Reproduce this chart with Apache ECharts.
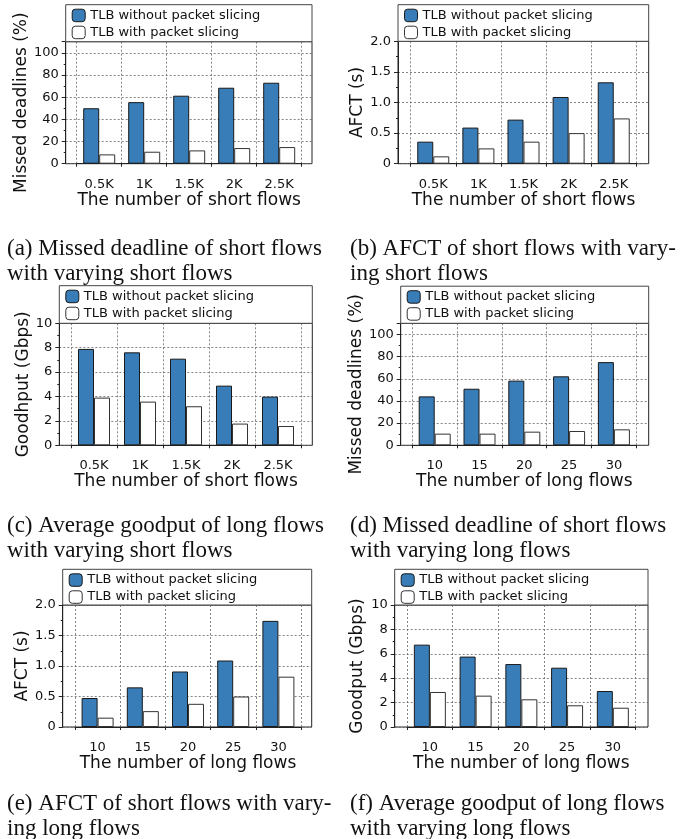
<!DOCTYPE html>
<html>
<head>
<meta charset="utf-8">
<script src="https://cdn.jsdelivr.net/npm/echarts@6/dist/echarts.min.js"></script>
<style>
html,body{margin:0;padding:0;background:#fff;}
#c{width:686px;height:839px;}
</style>
</head>
<body>
<div id="c"></div>
<script>
// ---------- data ----------
const catsShort = ['0.5K', '1K', '1.5K', '2K', '2.5K'];
const catsLong = ['10', '15', '20', '25', '30'];
const seriesNames = ['TLB without packet slicing', 'TLB with packet slicing'];

const missedShortNoSlice = [50, 55.5, 61.3, 68.5, 73];
const missedShortSlice = [8.4, 10.8, 12, 14.1, 15];
const afctShortNoSlice = [0.36, 0.59, 0.72, 1.09, 1.33];
const afctShortSlice = [0.12, 0.25, 0.36, 0.50, 0.74];
const goodputShortNoSlice = [7.9, 7.62, 7.1, 4.89, 3.99];
const goodputShortSlice = [3.91, 3.58, 3.2, 1.78, 1.58];
const missedLongNoSlice = [44.1, 51, 58.3, 62.2, 75];
const missedLongSlice = [10.5, 10.5, 12.3, 12.9, 14.4];
const afctLongNoSlice = [0.475, 0.65, 0.91, 1.09, 1.74];
const afctLongSlice = [0.153, 0.26, 0.38, 0.50, 0.825];
const goodputLongNoSlice = [6.75, 5.77, 5.16, 4.86, 2.95];
const goodputLongSlice = [2.87, 2.57, 2.27, 1.78, 1.58];

const percentTicks = { max: 110, interval: 20 };
const afctTicks = { max: 2.0, interval: 0.5 };
const goodputTicks = { max: 10, interval: 2 };

const xTitleShort = 'The number of short flows';
const xTitleLong = 'The number of long flows';

const captions = [
  ['(a) Missed deadline of short flows', 'with varying short flows'],
  ['(b) AFCT of short flows with vary-', 'ing short flows'],
  ['(c) Average goodput of long flows', 'with varying short flows'],
  ['(d) Missed deadline of short flows', 'with varying long flows'],
  ['(e) AFCT of short flows with vary-', 'ing long flows'],
  ['(f) Average goodput of long flows', 'with varying long flows']
];

// ---------- panels ----------
const fmtPercent = v => (v > 100 ? '' : String(v));
const fmtAfct = v => (v === 0 ? '0' : v.toFixed(1));
const fmtGood = v => String(v);

const panels = [
  { cats: catsShort, a: missedShortNoSlice, b: missedShortSlice, ticks: percentTicks, fmt: fmtPercent, yName: 'Missed deadlines (%)', xName: xTitleShort,
    L: 65.7, R: 312, LT: 4.7, T: 41.7, B: 163.7, CL: 76.7, CR: 301.7, nameGap: 35 },
  { cats: catsShort, a: afctShortNoSlice, b: afctShortSlice, ticks: afctTicks, fmt: fmtAfct, yName: 'AFCT (s)', xName: xTitleShort,
    L: 398, R: 648.7, LT: 4.7, T: 41.3, B: 163.7, CL: 410.7, CR: 636.3, nameGap: 31 },
  { cats: catsShort, a: goodputShortNoSlice, b: goodputShortSlice, ticks: goodputTicks, fmt: fmtGood, yName: 'Goodhput (Gbps)', xName: xTitleShort,
    L: 59.3, R: 312.3, LT: 285.7, T: 323.3, B: 445.3, CL: 71, CR: 301, nameGap: 27.5 },
  { cats: catsLong, a: missedLongNoSlice, b: missedLongSlice, ticks: percentTicks, fmt: fmtPercent, yName: 'Missed deadlines (%)', xName: xTitleLong,
    L: 400.7, R: 648.7, LT: 286.2, T: 323.3, B: 445.3, CL: 412.3, CR: 636.3, nameGap: 32.5 },
  { cats: catsLong, a: afctLongNoSlice, b: afctLongSlice, ticks: afctTicks, fmt: fmtAfct, yName: 'AFCT (s)', xName: xTitleLong,
    L: 62.7, R: 311.7, LT: 569.3, T: 605, B: 727, CL: 75, CR: 301, nameGap: 31 },
  { cats: catsLong, a: goodputLongNoSlice, b: goodputLongSlice, ticks: goodputTicks, fmt: fmtGood, yName: 'Goodput (Gbps)', xName: xTitleLong,
    L: 394.7, R: 648, LT: 569.3, T: 605, B: 727, CL: 407, CR: 635.7, nameGap: 28.5 }
];

const captionPos = [
  { x: 7, y: 256.7 }, { x: 350, y: 256.7 },
  { x: 7, y: 534.2 }, { x: 350, y: 534.2 },
  { x: 7, y: 811.7 }, { x: 350, y: 811.7 }
];

const FONT = '"DejaVu Sans", sans-serif';
const BLUE = '#387db8';
const gridLine = { show: true, lineStyle: { color: '#666', type: [2, 2], width: 0.8 } };

const option = { animation: false, backgroundColor: '#fff', grid: [], xAxis: [], yAxis: [], series: [], legend: [], graphic: [] };

panels.forEach((p, i) => {
  const gA = 2 * i, gB = 2 * i + 1;
  option.grid.push({ left: p.L, top: p.T, width: p.R - p.L, height: p.B - p.T, show: true, borderColor: '#222', borderWidth: 1, backgroundColor: 'transparent' });
  option.grid.push({ left: p.CL, top: p.T, width: p.CR - p.CL, height: p.B - p.T });
  option.xAxis.push({ gridIndex: gA, type: 'value', min: 0, max: 1, show: false });
  option.yAxis.push({
    gridIndex: gA, type: 'value', min: 0, max: p.ticks.max, interval: p.ticks.interval,
    axisLine: { show: true, lineStyle: { color: '#222', width: 1 } },
    axisTick: { show: true, length: 4, lineStyle: { color: '#222' } },
    minorTick: { show: true, splitNumber: 2, length: 2, lineStyle: { color: '#222' } },
    splitLine: gridLine,
    axisLabel: { fontSize: 13, fontFamily: FONT, color: '#111', margin: 7, formatter: p.fmt },
    name: p.yName, nameLocation: 'middle', nameGap: p.nameGap,
    nameTextStyle: { fontSize: 17, fontFamily: FONT, color: '#111' }
  });
  option.xAxis.push({
    gridIndex: gB, type: 'category', data: p.cats,
    axisLine: { show: true, lineStyle: { color: '#222', width: 1 } },
    axisTick: { show: true, length: 3, interval: 0, lineStyle: { color: '#222' } },
    splitLine: Object.assign({ interval: 0 }, gridLine),
    axisLabel: { fontSize: 13, fontFamily: FONT, color: '#111', margin: 14, interval: 0 },
    name: p.xName, nameLocation: 'middle', nameGap: 26,
    nameTextStyle: { fontSize: 17, fontFamily: FONT, color: '#111' }
  });
  option.yAxis.push({ gridIndex: gB, type: 'value', min: 0, max: p.ticks.max, show: false });
  option.series.push({
    type: 'bar', name: seriesNames[0], xAxisIndex: gB, yAxisIndex: gB, data: p.a,
    barWidth: 16, barGap: '0%', itemStyle: { color: BLUE, borderColor: '#1a1a1a', borderWidth: 1 }
  });
  option.series.push({
    type: 'bar', name: seriesNames[1], xAxisIndex: gB, yAxisIndex: gB, data: p.b,
    barWidth: 16, barGap: '0%', itemStyle: { color: '#ffffff', borderColor: '#333', borderWidth: 1 }
  });
  option.graphic.push({
    type: 'rect', z: 1, shape: { x: p.L, y: p.LT, width: p.R - p.L, height: p.T - p.LT },
    style: { fill: '#fff', stroke: '#444', lineWidth: 1 }
  });
  option.legend.push({
    left: p.L + 6, top: p.LT + 4, orient: 'vertical', padding: 0, z: 10,
    itemWidth: 13, itemHeight: 12.5, itemGap: 3.5, icon: 'roundRect',
    textStyle: { fontSize: 13, fontFamily: FONT, color: '#111' },
    data: [
      { name: seriesNames[0], itemStyle: { color: BLUE, borderColor: '#1a1a1a', borderWidth: 1 } },
      { name: seriesNames[1], itemStyle: { color: '#fff', borderColor: '#333', borderWidth: 1 } }
    ]
  });
});

captions.forEach((lines, i) => {
  const cp = captionPos[i];
  lines.forEach((t, k) => {
    option.graphic.push({
      type: 'text', x: cp.x, y: cp.y + k * 25 + 3.7,
      style: { text: t, fontSize: 23, fontFamily: '"Liberation Serif", serif', fill: '#111', align: 'left', verticalAlign: 'bottom' }
    });
  });
});

const chart = echarts.init(document.getElementById('c'), null, { renderer: 'canvas' });
chart.setOption(option);
</script>
</body>
</html>
